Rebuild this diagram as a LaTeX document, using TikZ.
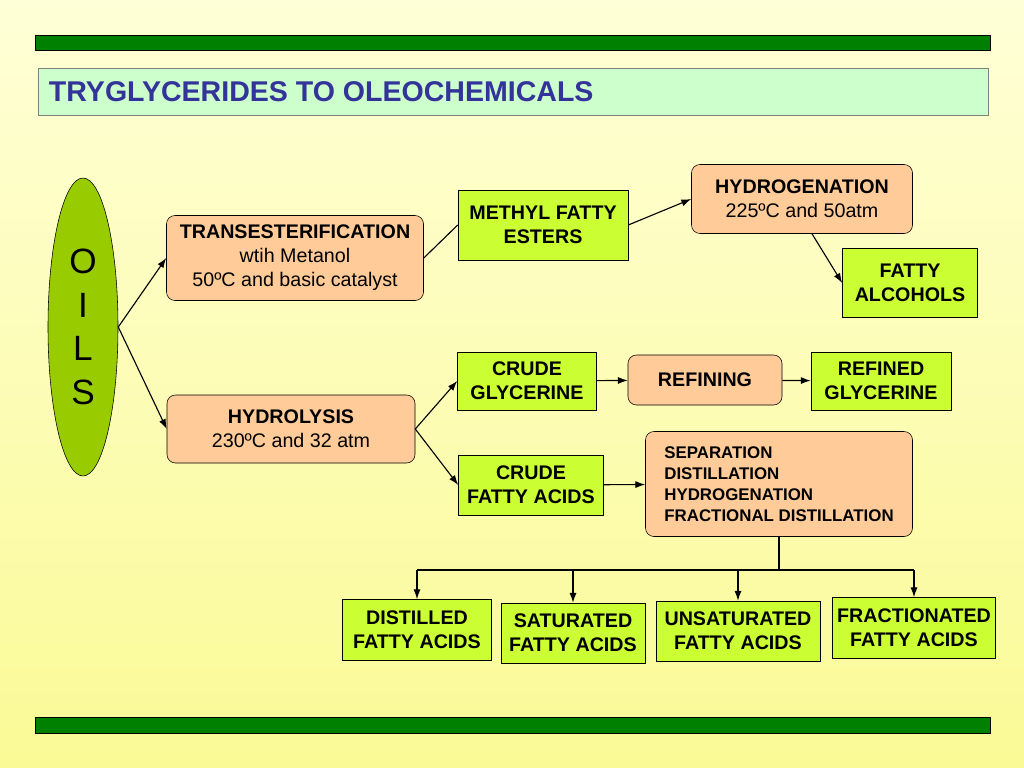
\documentclass[tikz,border=0pt]{standalone}
\usepackage{fontspec}
\setmainfont{Liberation Sans}
\usetikzlibrary{shapes.geometric,arrows.meta}
\definecolor{peach}{RGB}{255,204,153}
\definecolor{lime}{RGB}{204,255,51}
\definecolor{oilgreen}{RGB}{153,204,0}
\definecolor{bargreen}{RGB}{0,128,0}
\definecolor{titlebg}{RGB}{204,255,204}
\definecolor{titleblue}{RGB}{51,51,153}
\tikzset{
  procbox/.style={draw, fill=peach, rounded corners=6pt, align=center, inner sep=1pt, font=\fontsize{14}{17}\selectfont},
  prodbox/.style={draw, fill=lime, align=center, inner sep=1pt, font=\fontsize{14}{17}\selectfont\bfseries},
  flow/.style={-{Latex[length=7pt,width=5pt]}, thick}
}
\begin{document}
\begin{tikzpicture}[x=0.025cm,y=-0.025cm]
\shade[top color={rgb,255:red,255;green,255;blue,215}, bottom color={rgb,255:red,250;green,250;blue,150}] (0,0) rectangle (1024,768);
\useasboundingbox (0,0) rectangle (1024,768);
\draw[fill=bargreen] (35,35) rectangle (990,50);
\draw[fill=bargreen] (35,717) rectangle (990,733);
\draw[fill=titlebg, draw=gray] (38,68) rectangle (988,115);
\node[anchor=west, text=titleblue, font=\fontsize{20.3}{24}\selectfont\bfseries] (title) at (44,92) {TRYGLYCERIDES TO OLEOCHEMICALS};

\node[ellipse, draw, fill=oilgreen, minimum width=70*0.025cm, minimum height=298*0.025cm, align=center, font=\fontsize{25}{31}\selectfont] (oils) at (83,327) {O\\I\\L\\S};

\node[procbox, minimum width=257*0.025cm, minimum height=85*0.025cm] (trans) at (295,258) {\textbf{TRANSESTERIFICATION}\\wtih Metanol\\50ºC and basic catalyst};
\node[procbox, minimum width=248*0.025cm, minimum height=68*0.025cm] (hydrol) at (291,429) {\textbf{HYDROLYSIS}\\230ºC and 32 atm};
\node[prodbox, minimum width=170*0.025cm, minimum height=70*0.025cm] (methyl) at (543,225) {METHYL FATTY\\ESTERS};
\node[procbox, minimum width=221*0.025cm, minimum height=69*0.025cm] (hydrog) at (802,199) {\textbf{HYDROGENATION}\\225ºC and 50atm};
\node[prodbox, minimum width=135*0.025cm, minimum height=69*0.025cm] (alcohols) at (910,283) {FATTY\\ALCOHOLS};
\node[prodbox, minimum width=139*0.025cm, minimum height=58*0.025cm] (cglyc) at (527,381) {CRUDE\\GLYCERINE};
\node[procbox, minimum width=154*0.025cm, minimum height=50*0.025cm, font=\fontsize{14}{17}\selectfont\bfseries] (refining) at (705,380) {REFINING};
\node[prodbox, minimum width=140*0.025cm, minimum height=58*0.025cm] (rglyc) at (881,381) {REFINED\\GLYCERINE};
\node[prodbox, minimum width=145*0.025cm, minimum height=60*0.025cm] (cfa) at (531,485) {CRUDE\\FATTY ACIDS};
\node[procbox, minimum width=267*0.025cm, minimum height=105*0.025cm, align=left, inner xsep=10pt, font=\fontsize{12}{15}\selectfont\bfseries] (sep) at (779,484) {SEPARATION\\DISTILLATION\\HYDROGENATION\\FRACTIONAL DISTILLATION};

\node[prodbox, minimum width=149*0.025cm, minimum height=61*0.025cm] (dist) at (417,630) {DISTILLED\\FATTY ACIDS};
\node[prodbox, minimum width=144*0.025cm, minimum height=60*0.025cm] (sat) at (573,633) {SATURATED\\FATTY ACIDS};
\node[prodbox, minimum width=164*0.025cm, minimum height=60*0.025cm] (unsat) at (738,631) {UNSATURATED\\FATTY ACIDS};
\node[prodbox, minimum width=163*0.025cm, minimum height=61*0.025cm] (fract) at (914,628) {FRACTIONATED\\FATTY ACIDS};

% connectors
\draw[flow] (oils.east) -- (trans.west);
\draw[flow] (oils.east) -- (hydrol.west);
\draw[thick] (trans.east) -- (methyl.west);
\draw[flow] (methyl.east) -- (hydrog.west);
\draw[flow] (hydrog.south) ++(10,0) coordinate (hs) (hs) -- (alcohols.west);
\draw[flow] (hydrol.east) -- (cglyc.west);
\draw[flow] (hydrol.east) -- (cfa.west);
\draw[flow] (cglyc) -- (refining);
\draw[flow] (refining) -- (rglyc);
\draw[flow] (cfa) -- (sep);
\coordinate (split) at (779,570);
\draw[thick] (sep.south) -- (split);
\draw[thick] (dist.north |- split) -- (fract.north |- split);
\foreach \n in {dist,sat,unsat,fract}
  \draw[flow] (\n.north |- split) -- (\n.north);
\end{tikzpicture}
\end{document}
